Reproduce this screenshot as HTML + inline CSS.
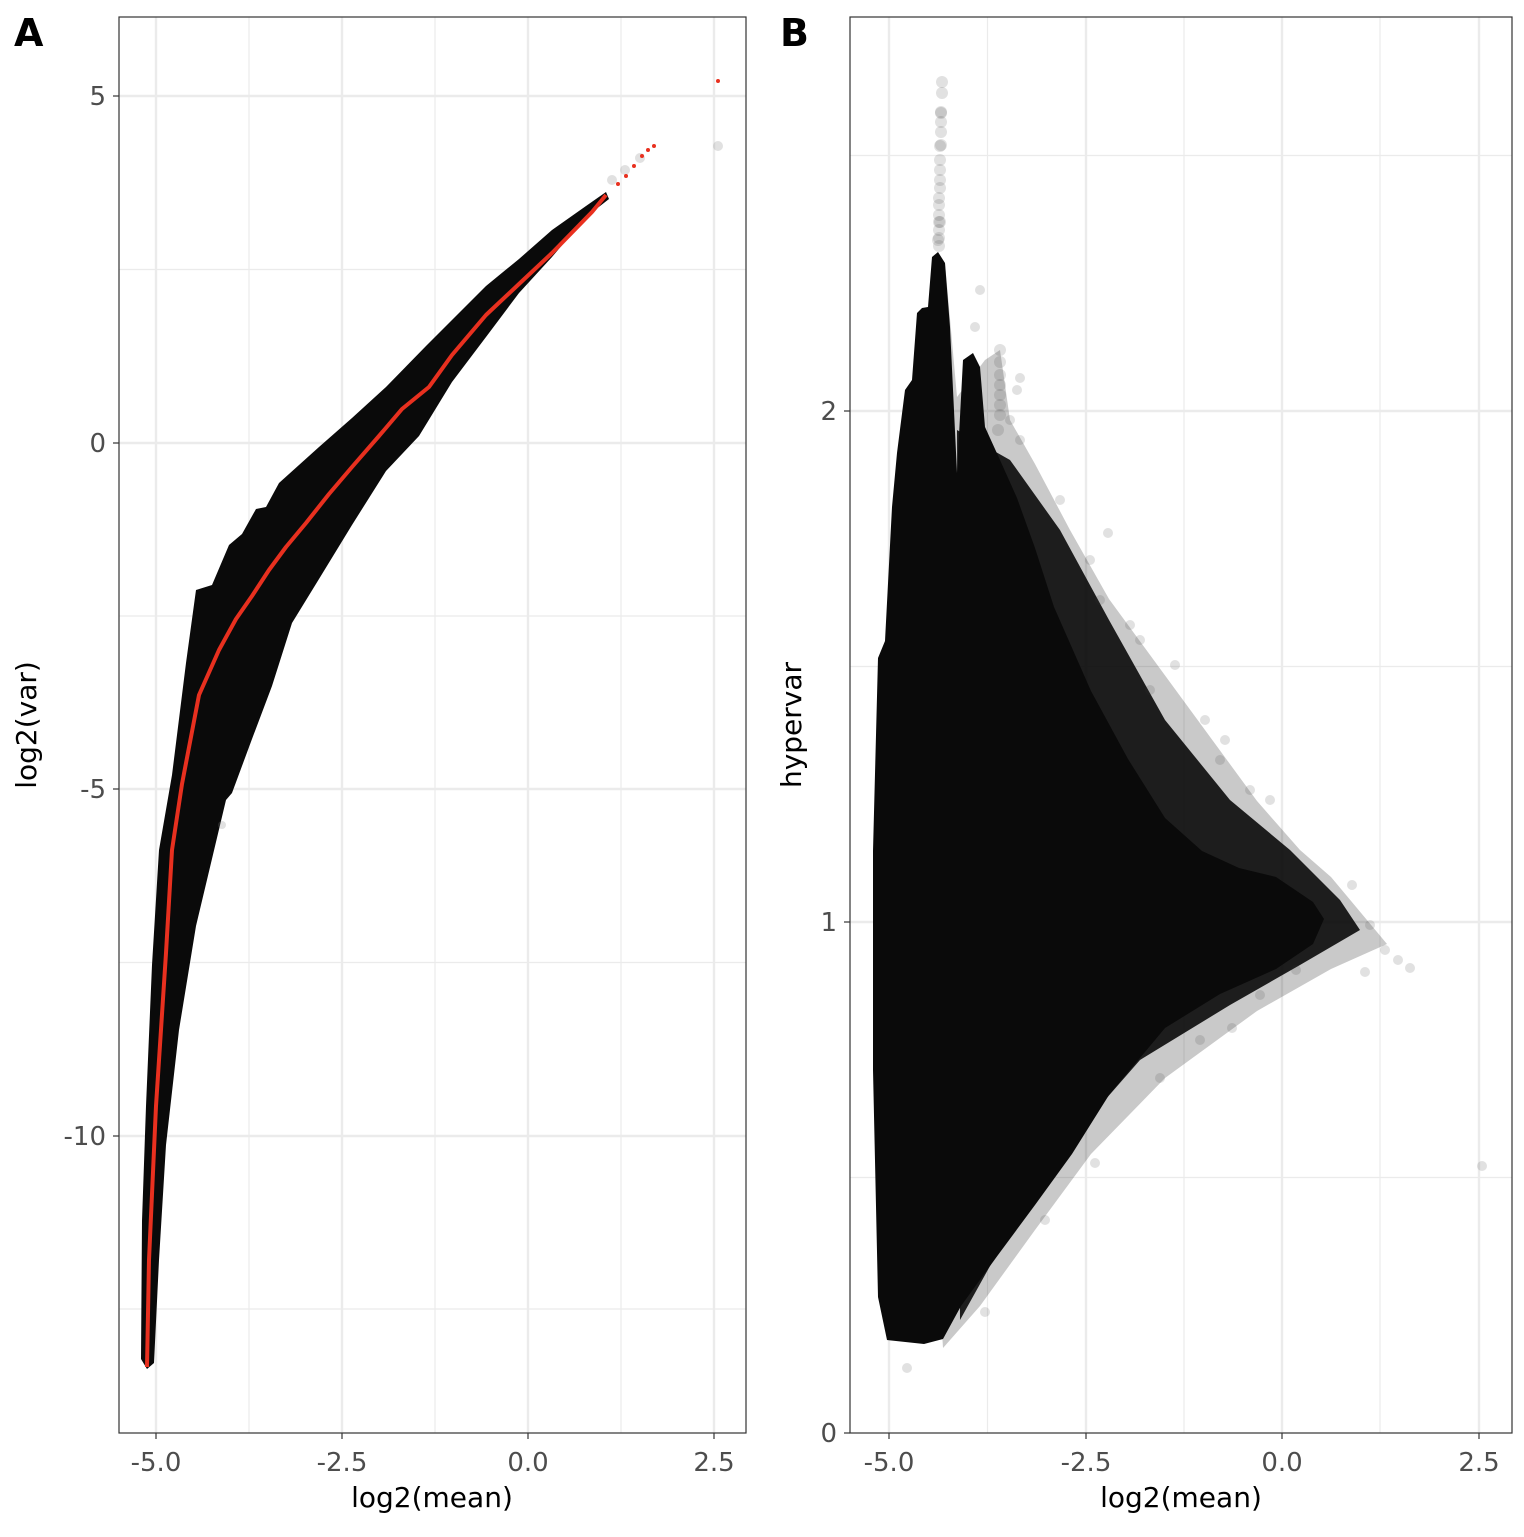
<!DOCTYPE html>
<html><head><style>body{margin:0;background:#fff}</style></head><body>
<svg width="1524" height="1532" xmlns="http://www.w3.org/2000/svg" font-family="DejaVu Sans, Liberation Sans, sans-serif">
<rect width="1524" height="1532" fill="#fff"/>
<g stroke="#ebebeb" stroke-width="1.2">
<line x1="119" x2="746" y1="269.5" y2="269.5"/><line x1="119" x2="746" y1="616" y2="616"/><line x1="119" x2="746" y1="962.5" y2="962.5"/><line x1="119" x2="746" y1="1309" y2="1309"/>
<line x1="249" x2="249" y1="17" y2="1433"/><line x1="435" x2="435" y1="17" y2="1433"/><line x1="621" x2="621" y1="17" y2="1433"/>
</g>
<g stroke="#ebebeb" stroke-width="2.4">
<line x1="119" x2="746" y1="96" y2="96"/><line x1="119" x2="746" y1="443" y2="443"/><line x1="119" x2="746" y1="789" y2="789"/><line x1="119" x2="746" y1="1136" y2="1136"/>
<line x1="156" x2="156" y1="17" y2="1433"/><line x1="342" x2="342" y1="17" y2="1433"/><line x1="528" x2="528" y1="17" y2="1433"/><line x1="714" x2="714" y1="17" y2="1433"/>
</g>
<polygon fill="#0a0a0a" points="141,1359 142,1221 146,1106 152,965 159,850 172,775 186,663 196,590 212,585 229,545 242,534 256,509 266,507 279,483 319,447 352,418 386,387 426,346 452,320 486,286 519,259 552,230 586,206 606,192 609,199 586,217 552,257 519,293 486,337 452,382 419,436 386,471 352,525 319,579 292,623 272,686 252,739 232,793 226,800 196,926 179,1030 166,1145 159,1260 154,1363 147,1369"/>
<g fill="#888" fill-opacity="0.25"><circle cx="718" cy="146" r="5"/><circle cx="640" cy="158" r="5"/><circle cx="625" cy="170" r="5"/><circle cx="222" cy="825" r="4"/><circle cx="612" cy="180" r="5"/></g>
<polyline fill="none" stroke="#e8301f" stroke-width="4" stroke-linejoin="round" points="147,1367 149,1260 156,1106 166,953 172,850 182,784 199,695 219,650 236,619 252,596 269,570 286,547 306,523 329,494 352,467 379,436 402,409 429,387 452,355 486,315 519,284 552,253 592,212 606,195"/>
<g fill="#e8301f"><circle cx="618" cy="184" r="2"/><circle cx="626" cy="176" r="2"/><circle cx="634" cy="166" r="2"/><circle cx="642" cy="156" r="2"/><circle cx="648" cy="150" r="2"/><circle cx="654" cy="146" r="2"/><circle cx="718" cy="81" r="2"/></g>
<rect x="119" y="17" width="627" height="1416" fill="none" stroke="#333" stroke-width="1.2"/>
<g stroke="#ebebeb" stroke-width="1.2">
<line x1="850" x2="1512" y1="155.5" y2="155.5"/><line x1="850" x2="1512" y1="666.5" y2="666.5"/><line x1="850" x2="1512" y1="1177.5" y2="1177.5"/>
<line x1="987.5" x2="987.5" y1="17" y2="1433"/><line x1="1184" x2="1184" y1="17" y2="1433"/><line x1="1380" x2="1380" y1="17" y2="1433"/>
</g>
<g stroke="#ebebeb" stroke-width="2.4">
<line x1="850" x2="1512" y1="411" y2="411"/><line x1="850" x2="1512" y1="922" y2="922"/>
<line x1="889" x2="889" y1="17" y2="1433"/><line x1="1086" x2="1086" y1="17" y2="1433"/><line x1="1282" x2="1282" y1="17" y2="1433"/><line x1="1479" x2="1479" y1="17" y2="1433"/>
</g>
<polygon fill="#0a0a0a" fill-opacity="0.22" points="945,263 957,397 985,360 1000,350 1010,420 1035,464 1070,530 1109,599 1183,700 1257,801 1300,850 1331,877 1387,944 1331,969 1257,1011 1165,1078 1091,1154 1035,1230 980,1306 943,1348 940,1300"/>
<polygon fill="#0a0a0a" fill-opacity="0.9" points="957,430 1010,460 1060,530 1109,620 1165,720 1230,800 1290,850 1340,900 1360,930 1300,965 1230,1005 1140,1060 1070,1140 1010,1230 960,1320"/>
<polygon fill="#0a0a0a" points="873,851 878,658 885,641 892,507 897,453 905,390 912,380 917,313 922,308 928,307 932,257 938,252 945,263 950,327 957,473 963,360 973,353 980,367 985,427 1000,460 1017,498 1035,548 1054,607 1091,691 1128,759 1165,818 1202,851 1239,868 1276,877 1313,902 1324,919 1313,944 1276,969 1220,994 1165,1028 1109,1095 1072,1154 1035,1205 998,1255 961,1306 943,1339 924,1344 887,1340 878,1297 873,1070"/>
<g fill="#333" fill-opacity="0.15">
<circle cx="942" cy="82" r="6"/><circle cx="942" cy="93" r="6"/><circle cx="941" cy="112" r="6"/><circle cx="941" cy="113" r="6"/><circle cx="941" cy="122" r="6"/><circle cx="941" cy="132" r="6"/><circle cx="941" cy="145" r="6"/><circle cx="940" cy="146" r="6"/><circle cx="940" cy="160" r="6"/><circle cx="940" cy="170" r="6"/><circle cx="940" cy="180" r="6"/><circle cx="940" cy="188" r="6"/><circle cx="939" cy="198" r="6"/><circle cx="939" cy="205" r="6"/><circle cx="939" cy="215" r="6"/><circle cx="939" cy="222" r="6"/><circle cx="939" cy="230" r="6"/><circle cx="939" cy="238" r="6"/><circle cx="939" cy="246" r="6"/><circle cx="940" cy="222" r="6"/><circle cx="938" cy="240" r="6"/>
<circle cx="1000" cy="350" r="6"/><circle cx="1000" cy="362" r="6"/><circle cx="1000" cy="375" r="6"/><circle cx="1000" cy="385" r="6"/><circle cx="1000" cy="395" r="6"/><circle cx="1000" cy="405" r="6"/><circle cx="1000" cy="415" r="6"/><circle cx="998" cy="430" r="6"/>
<circle cx="975" cy="327" r="5"/><circle cx="980" cy="290" r="5"/><circle cx="1020" cy="378" r="5"/><circle cx="1017" cy="390" r="5"/><circle cx="1010" cy="420" r="5"/><circle cx="1020" cy="440" r="5"/><circle cx="1108" cy="533" r="5"/><circle cx="1090" cy="560" r="5"/><circle cx="1060" cy="500" r="5"/><circle cx="1100" cy="600" r="5"/><circle cx="1130" cy="625" r="5"/><circle cx="1140" cy="640" r="5"/><circle cx="1175" cy="665" r="5"/><circle cx="1150" cy="690" r="5"/><circle cx="1205" cy="720" r="5"/><circle cx="1225" cy="740" r="5"/><circle cx="1220" cy="760" r="5"/><circle cx="1270" cy="800" r="5"/><circle cx="1250" cy="790" r="5"/><circle cx="1352" cy="885" r="5"/><circle cx="1370" cy="925" r="5"/><circle cx="1385" cy="950" r="5"/><circle cx="1398" cy="960" r="5"/><circle cx="1410" cy="968" r="5"/><circle cx="1365" cy="972" r="5"/><circle cx="1482" cy="1166" r="5"/><circle cx="1095" cy="1163" r="5"/><circle cx="1045" cy="1220" r="5"/><circle cx="985" cy="1312" r="5"/><circle cx="907" cy="1368" r="5"/><circle cx="1232" cy="1028" r="5"/><circle cx="1200" cy="1040" r="5"/><circle cx="1160" cy="1078" r="5"/><circle cx="1296" cy="970" r="5"/><circle cx="1260" cy="995" r="5"/>
</g>
<rect x="850" y="17" width="662" height="1416" fill="none" stroke="#333" stroke-width="1.2"/>
<g stroke="#333" stroke-width="1.2">
<line x1="113" x2="119" y1="96" y2="96"/><line x1="113" x2="119" y1="443" y2="443"/><line x1="113" x2="119" y1="789" y2="789"/><line x1="113" x2="119" y1="1136" y2="1136"/>
<line x1="156" x2="156" y1="1433" y2="1439"/><line x1="342" x2="342" y1="1433" y2="1439"/><line x1="528" x2="528" y1="1433" y2="1439"/><line x1="714" x2="714" y1="1433" y2="1439"/>
<line x1="844" x2="850" y1="411" y2="411"/><line x1="844" x2="850" y1="922" y2="922"/><line x1="844" x2="850" y1="1433" y2="1433"/>
<line x1="889" x2="889" y1="1433" y2="1439"/><line x1="1086" x2="1086" y1="1433" y2="1439"/><line x1="1282" x2="1282" y1="1433" y2="1439"/><line x1="1479" x2="1479" y1="1433" y2="1439"/>
</g>
<g fill="#4d4d4d" font-size="26">
<g text-anchor="end"><text x="106" y="105">5</text><text x="106" y="452">0</text><text x="106" y="798">-5</text><text x="106" y="1145">-10</text>
<text x="837" y="420">2</text><text x="837" y="931">1</text><text x="837" y="1442">0</text></g>
<g text-anchor="middle"><text x="156" y="1471">-5.0</text><text x="342" y="1471">-2.5</text><text x="528" y="1471">0.0</text><text x="714" y="1471">2.5</text>
<text x="889" y="1471">-5.0</text><text x="1086" y="1471">-2.5</text><text x="1282" y="1471">0.0</text><text x="1479" y="1471">2.5</text></g>
</g>
<g fill="#000" font-size="28" text-anchor="middle">
<text x="432" y="1507">log2(mean)</text><text x="1181" y="1507">log2(mean)</text>
<text transform="translate(36,725) rotate(-90)">log2(var)</text>
<text transform="translate(801,725) rotate(-90)">hypervar</text>
</g>
<g font-size="38" font-weight="bold" fill="#000"><text x="14" y="46">A</text><text x="780" y="46">B</text></g>
</svg>
</body></html>
